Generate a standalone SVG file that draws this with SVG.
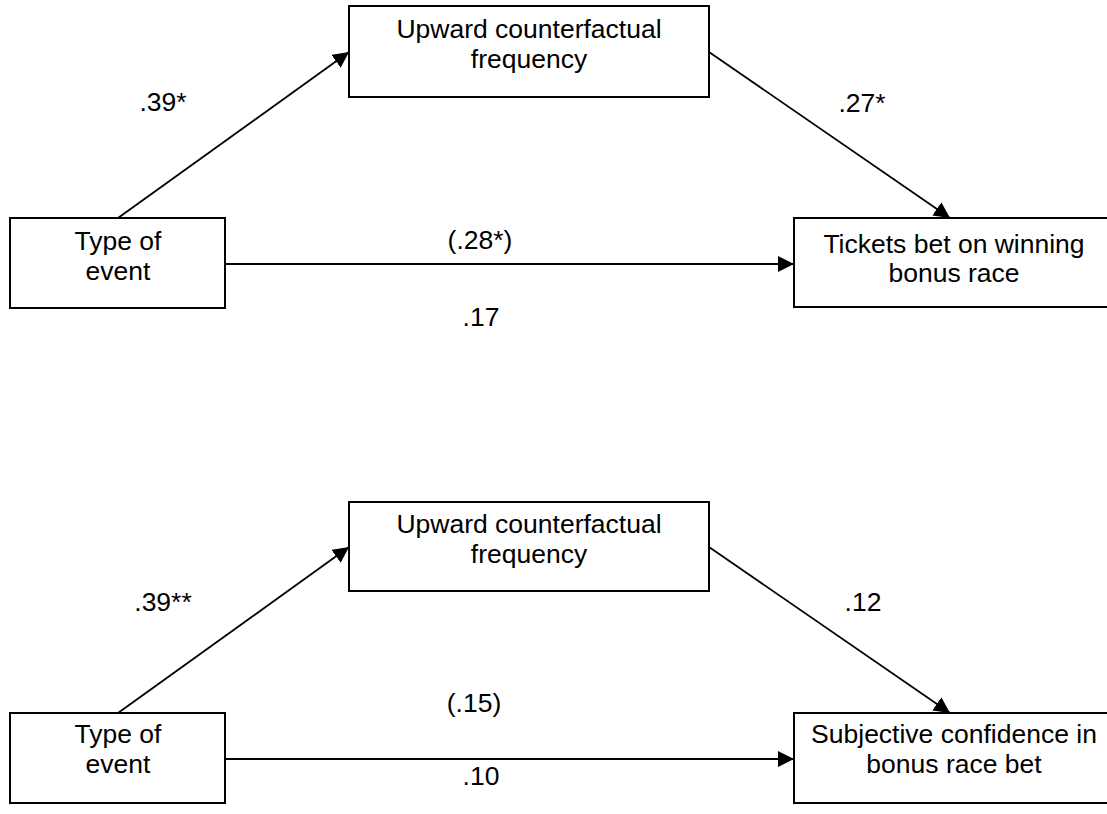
<svg xmlns="http://www.w3.org/2000/svg" width="1107" height="814" viewBox="0 0 1107 814">
<style>
.box{fill:#fff;stroke:#000;stroke-width:2}
.t{font-family:"Liberation Sans",Arial,sans-serif;font-size:26.5px;fill:#000;text-anchor:middle}
.c{stroke:#000;stroke-width:1.8;fill:none;marker-end:url(#ah)}
</style>
<defs>
<marker id="ah" markerUnits="userSpaceOnUse" markerWidth="17" markerHeight="16" refX="16" refY="8" orient="auto">
<path d="M0,0 L16,8 L0,16 Z" fill="#000"/>
</marker>
</defs>
<rect width="1107" height="814" fill="#fff"/>
<g id="connectors">
<line class="c" x1="118" y1="218" x2="349" y2="52"/>
<line class="c" x1="709" y1="52" x2="950" y2="218"/>
<line class="c" x1="225" y1="264" x2="794" y2="264"/>
<line class="c" x1="118" y1="713" x2="349" y2="547"/>
<line class="c" x1="709" y1="547" x2="950" y2="713"/>
<line class="c" x1="225" y1="759" x2="794" y2="759"/>
</g>
<g id="labels">
<text class="t" x="163" y="111">.39*</text>
<text class="t" x="862" y="112">.27*</text>
<text class="t" x="480" y="249">(.28*)</text>
<text class="t" x="481" y="326">.17</text>
<text class="t" x="163" y="611">.39**</text>
<text class="t" x="863" y="611">.12</text>
<text class="t" x="474" y="712">(.15)</text>
<text class="t" x="481" y="785">.10</text>
</g>
<g id="mediator1">
<rect class="box" x="349" y="6" width="360" height="91"/>
<text class="t" x="529" y="38">Upward counterfactual</text>
<text class="t" x="529" y="68">frequency</text>
</g>
<g id="event1">
<rect class="box" x="10" y="218" width="215" height="90"/>
<text class="t" x="118" y="250">Type of</text>
<text class="t" x="118" y="280">event</text>
</g>
<g id="outcome1">
<rect class="box" x="794" y="218" width="320" height="89"/>
<text class="t" x="954" y="253">Tickets bet on winning</text>
<text class="t" x="954" y="282">bonus race</text>
</g>
<g id="mediator2">
<rect class="box" x="349" y="502" width="360" height="89"/>
<text class="t" x="529" y="533">Upward counterfactual</text>
<text class="t" x="529" y="563">frequency</text>
</g>
<g id="event2">
<rect class="box" x="10" y="713" width="215" height="90"/>
<text class="t" x="118" y="743">Type of</text>
<text class="t" x="118" y="773">event</text>
</g>
<g id="outcome2">
<rect class="box" x="794" y="713" width="320" height="90"/>
<text class="t" x="954" y="743">Subjective confidence in</text>
<text class="t" x="954" y="773">bonus race bet</text>
</g>
</svg>
